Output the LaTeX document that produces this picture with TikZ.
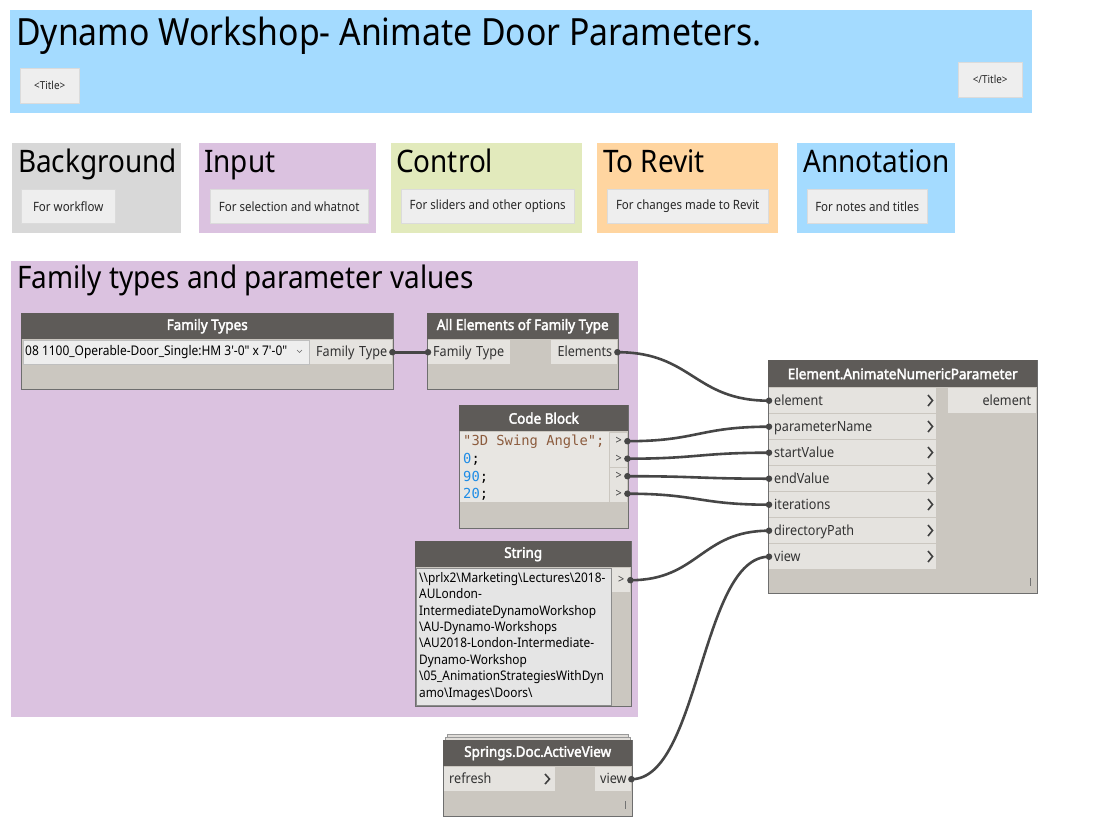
\documentclass[tikz,border=0pt]{standalone}
\usepackage{fontspec}
\newfontfamily\ui{Noto Sans}[FakeStretch=0.9]
\newfontfamily\uib{Noto Sans}[FakeStretch=0.93, FakeBold=2.4]
\newfontfamily\codefont{DejaVu Sans Mono}
\newcommand\myBS{\textbackslash{}}
\definecolor{annoblue}{RGB}{164,219,255}
\definecolor{bggray}{RGB}{216,216,216}
\definecolor{inpurple}{RGB}{219,194,224}
\definecolor{ctlgreen}{RGB}{226,234,188}
\definecolor{revorange}{RGB}{255,213,160}
\definecolor{notec}{RGB}{238,238,238}
\definecolor{hdrc}{RGB}{94,91,88}
\definecolor{bodyc}{RGB}{203,199,192}
\definecolor{portc}{RGB}{229,227,223}
\definecolor{codec}{RGB}{232,230,226}
\definecolor{bordc}{RGB}{110,110,110}
\definecolor{wirec}{RGB}{70,70,70}
\definecolor{strc}{RGB}{140,92,62}
\definecolor{numc}{RGB}{30,140,230}
\tikzset{
 note/.style={fill=notec, draw=black!14, anchor=north west, inner sep=0, font=\ui\fontsize{12.8}{14}\selectfont, text=black!85},
 grouptitle/.style={anchor=base west, inner sep=0, font=\ui\fontsize{31}{34}\selectfont},
 hdr/.style={fill=hdrc, anchor=north west, inner sep=0, text=white, font=\uib\fontsize{14.5}{16}\selectfont},
 body/.style={fill=bodyc, draw=bordc, line width=1pt},
 port/.style={fill=portc, anchor=north west, inner sep=0, inner xsep=5pt, text height=11.5, text depth=2, font=\ui\fontsize{14}{15}\selectfont, text=black!80},
 cport/.style={fill=portc, anchor=north west, inner sep=0, minimum width=17, minimum height=17, font=\ui\fontsize{12}{14}\selectfont, text=black!75},
 wire/.style={draw=wirec, line width=2.6pt},
 dot/.style={fill=wirec, circle, inner sep=0, minimum size=6.5pt},
 chev/.style={draw=black!75, line width=1.6pt},
 code/.style={anchor=west, inner sep=0, font=\codefont\fontsize{13.8}{15}\selectfont}
}
\begin{document}
\begin{tikzpicture}[x=1pt,y=-1pt]
\useasboundingbox (0,0) rectangle (1100,838);
\fill[white] (0,0) rectangle (1100,838);
% title group
\fill[annoblue] (10,10) rectangle (1032,113);
\node[anchor=base west, inner sep=0, font=\ui\fontsize{37.5}{40}\selectfont] (title) at (16,45) {Dynamo Workshop- Animate Door Parameters.};
\node[note, minimum width=59, minimum height=35, font=\ui\fontsize{11}{13}\selectfont] (t1) at (20,68) {<Title>};
\node[note, minimum width=64, minimum height=35, font=\ui\fontsize{11}{13}\selectfont] (t2) at (958,62) {</Title>};
% legend groups
\fill[bggray] (12,143) rectangle (181,233);
\node[grouptitle] (gbg) at (18,172) {Background};
\node[note, minimum width=94, minimum height=34] (nbg) at (21,189) {For workflow};
\fill[inpurple] (199,143) rectangle (376,233);
\node[grouptitle] (gin) at (204,172) {Input};
\node[note, minimum width=158, minimum height=34] (nin) at (210,189) {For selection and whatnot};
\fill[ctlgreen] (391,143) rectangle (582,233);
\node[grouptitle] (gct) at (396,172) {Control};
\node[note, minimum width=173, minimum height=34] (nct) at (401,189) {For sliders and other options};
\fill[revorange] (597,143) rectangle (778,233);
\node[grouptitle] (grv) at (603,172) {To Revit};
\node[note, minimum width=161, minimum height=34] (nrv) at (607,189) {For changes made to Revit};
\fill[annoblue] (797,143) rectangle (955,233);
\node[grouptitle] (gan) at (803,172) {Annotation};
\node[note, minimum width=120, minimum height=34] (nan) at (807,189) {For notes and titles};
% main group
\fill[inpurple] (11,261) rectangle (638,717);
\node[grouptitle, font=\ui\fontsize{31}{32}\selectfont] (gmain) at (17,288) {Family types and parameter values};
% Family Types node
\draw[body] (21,313) rectangle (393,389);
\node[hdr, minimum width=372, minimum height=26] (fthdr) at (21,313) {Family Types};
\node[fill=notec, draw=black!25, anchor=north west, inner sep=0, minimum width=286, minimum height=24] (ftdd) at (23,340) {};
\node[anchor=west, inner sep=0, font=\ui\fontsize{13.3}{14}\selectfont] (ftddtxt) at (25,352) {08 1100\_Operable-Door\_Single:HM 3'-0" x 7'-0"};
\draw[black!60, line width=0.6pt] (297,350) -- (299.5,352.5) -- (302,350);
\node[port, text width=72, align=right, minimum height=24] (ftout) at (310,340) {Family Type};
% All Elements of Family Type
\draw[body] (427,313) rectangle (618,389);
\node[hdr, minimum width=191, minimum height=26] (aehdr) at (427,313) {All Elements of Family Type};
\node[port, text width=72, align=left, minimum height=24] (aein) at (428,340) {Family Type};
\node[port, text width=56, align=right, minimum height=24] (aeout) at (551,340) {Elements};
% Code Block
\draw[body] (459,405) rectangle (628,528);
\node[hdr, minimum width=169, minimum height=26] (cbhdr) at (459,405) {Code Block};
\fill[codec] (460,432) rectangle (609,502);
\node[code, text=strc] (cb1) at (463,442) {"3D Swing Angle";};
\node[code] (cb2) at (463,459.5) {\textcolor{numc}{0};};
\node[code] (cb3) at (463,477) {\textcolor{numc}{90};};
\node[code] (cb4) at (463,494.5) {\textcolor{numc}{20};};
\node[cport] (cbo1) at (610,432.5) {>};
\node[cport] (cbo2) at (610,450) {>};
\node[cport] (cbo3) at (610,467.5) {>};
\node[cport] (cbo4) at (610,485) {>};
% String
\draw[body] (415,541) rectangle (631,706);
\node[hdr, minimum width=216, minimum height=26] (sthdr) at (415,541) {String};
\node[fill=black!10!white, draw=black!45, anchor=north west, inner sep=0, minimum width=195, minimum height=137] (starea) at (416,568) {};
\node[anchor=north west, inner sep=0, text width=195, align=left, font=\ui\fontsize{13.2}{16.4}\selectfont] (sttxt) at (419,572)
 {\myBS\myBS prlx2\myBS Marketing\myBS Lectures\myBS 2018-\\AULondon-\\IntermediateDynamoWorkshop\\\myBS AU-Dynamo-Workshops\\\myBS AU2018-London-Intermediate-\\Dynamo-Workshop\\\myBS 05\_AnimationStrategiesWithDyn\\amo\myBS Images\myBS Doors\myBS};
\node[cport, minimum width=18, minimum height=24] (stout) at (612,568) {>};
% Element.AnimateNumericParameter
\draw[body] (768,360) rectangle (1037,593);
\node[hdr, minimum width=269, minimum height=27] (anhdr) at (768,360) {Element.AnimateNumericParameter};
\foreach \nm/\tx [count=\i from 0] in {a/element, b/parameterName, c/startValue, d/endValue, e/iterations, f/directoryPath, g/view} {
 \node[port, text width=157, align=left, minimum height=25] (an\nm) at (769,{388+26*\i}) {\tx};
 \draw[chev] (928,{395+26*\i}) -- (932.5,{400.5+26*\i}) -- (928,{406+26*\i});
}
\node[port, text width=78, align=right, minimum height=25] (anout) at (948,388) {element};
\draw[black!55, line width=0.8pt] (1030,578) -- (1030,586);
% Springs.Doc.ActiveView
\draw[fill=bodyc!60, draw=bordc!70] (447,734) rectangle (628,740);
\draw[fill=bodyc!60, draw=bordc!70] (445,737) rectangle (630,740);
\draw[body] (443,740) rectangle (632,816);
\node[hdr, minimum width=189, minimum height=26] (avhdr) at (443,740) {Springs.Doc.ActiveView};
\node[port, text width=101, align=left, minimum height=24] (avin) at (444,767) {refresh};
\draw[chev] (545,774) -- (549.5,779) -- (545,784);
\node[port, text width=26, align=right, minimum height=24] (avout) at (595,767) {view};
\draw[black!55, line width=0.8pt] (625,801) -- (625,809);
% wires
\draw[wire] (ftout.east) -- (aein.west);
\draw[wire] (aeout.east) .. controls +(75,0) and +(-75,0) .. (ana.west);
\draw[wire] (cbo1.east) .. controls +(70,0) and +(-70,0) .. (anb.west);
\draw[wire] (cbo2.east) .. controls +(70,0) and +(-70,0) .. (anc.west);
\draw[wire] (cbo3.east) .. controls +(70,0) and +(-70,0) .. (and.west);
\draw[wire] (cbo4.east) .. controls +(70,0) and +(-70,0) .. (ane.west);
\draw[wire] (stout.east) .. controls +(68,0) and +(-68,0) .. (anf.west);
\draw[wire] (avout.east) .. controls +(68,0) and +(-68,0) .. (ang.west);
\foreach \p in {ftout.east, aein.west, aeout.east, ana.west, cbo1.east, anb.west, cbo2.east, anc.west, cbo3.east, and.west, cbo4.east, ane.west, stout.east, anf.west, avout.east, ang.west}
 \node[dot] at (\p) {};
\end{tikzpicture}
\end{document}
